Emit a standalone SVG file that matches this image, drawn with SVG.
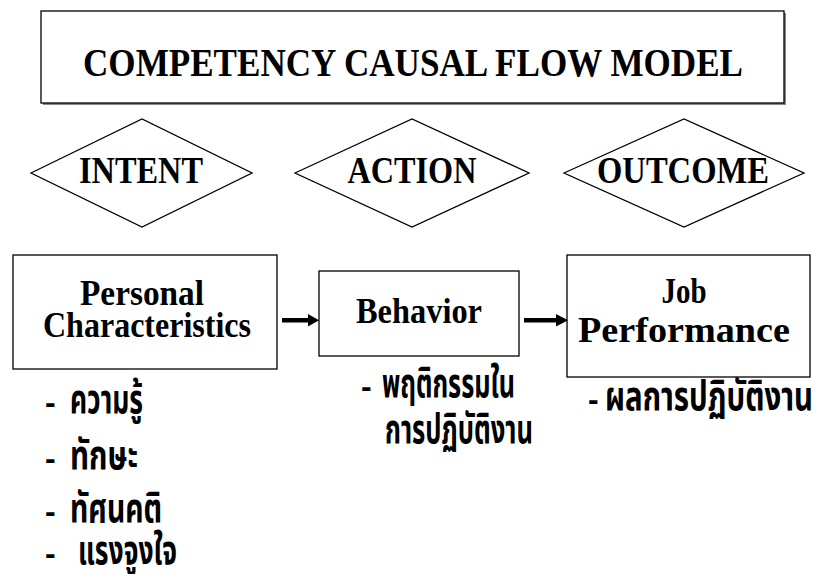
<svg xmlns="http://www.w3.org/2000/svg" width="818" height="574" viewBox="0 0 818 574">
<style>
.box{fill:#fff;stroke:#000;stroke-width:1.3}
.en{font-family:"Liberation Serif","Times New Roman",serif;font-weight:bold;fill:#000;text-anchor:middle}
.th{font-family:"Noto Sans Thai","Noto Sans Thai Looped","Noto Sans","DejaVu Sans",sans-serif;font-weight:bold;font-size:40px;fill:#000}
.th tspan.d{font-family:"Liberation Sans",Arial,sans-serif;font-size:32px}
.arr{fill:#000;stroke:none}
</style>
<rect width="818" height="574" fill="#fff"/>
<g id="title">
<rect x="43" y="13" width="743" height="92" fill="#888"/>
<rect class="box" x="41" y="11" width="743" height="92"/>
<text class="en" x="413" y="76" font-size="40" textLength="660" lengthAdjust="spacingAndGlyphs">COMPETENCY CAUSAL FLOW MODEL</text>
</g>
<g id="intent">
<polygon class="box" points="31,173 142,119 252,173 142,227"/>
<text class="en" x="141" y="183" font-size="37" textLength="124" lengthAdjust="spacingAndGlyphs">INTENT</text>
</g>
<g id="action">
<polygon class="box" points="295,173 412,119 529,173 412,227"/>
<text class="en" x="412" y="183" font-size="37" textLength="129" lengthAdjust="spacingAndGlyphs">ACTION</text>
</g>
<g id="outcome">
<polygon class="box" points="564,173 684,119 804,173 684,227"/>
<text class="en" x="683" y="183" font-size="37" textLength="172" lengthAdjust="spacingAndGlyphs">OUTCOME</text>
</g>
<g id="personal">
<rect class="box" x="13" y="255" width="264" height="114"/>
<text class="en" x="142" y="305" font-size="35" textLength="124" lengthAdjust="spacingAndGlyphs">Personal</text>
<text class="en" x="147" y="337" font-size="35" textLength="208" lengthAdjust="spacingAndGlyphs">Characteristics</text>
</g>
<g id="behavior">
<rect class="box" x="319" y="271" width="200" height="85"/>
<text class="en" x="419" y="323" font-size="35" textLength="126" lengthAdjust="spacingAndGlyphs">Behavior</text>
</g>
<g id="job">
<rect class="box" x="567" y="255" width="243" height="122"/>
<text class="en" x="684" y="303" font-size="35" textLength="45" lengthAdjust="spacingAndGlyphs">Job</text>
<text class="en" x="684" y="342" font-size="35" textLength="212" lengthAdjust="spacingAndGlyphs">Performance</text>
</g>
<g id="connectors">
<rect class="arr" x="282" y="318" width="28" height="4.5"/>
<polygon class="arr" points="308,314 319,320.2 308,326.5"/>
<rect class="arr" x="524" y="318" width="34" height="4.5"/>
<polygon class="arr" points="556,314 568,320.2 556,326.5"/>
</g>
<g id="personal-list">
<text class="th" y="413"><tspan class="d" x="45">-</tspan><tspan x="70" textLength="73" lengthAdjust="spacingAndGlyphs">ความรู้</tspan></text>
<text class="th" y="469"><tspan class="d" x="45">-</tspan><tspan x="70" textLength="68" lengthAdjust="spacingAndGlyphs">ทักษะ</tspan></text>
<text class="th" y="522"><tspan class="d" x="45">-</tspan><tspan x="70" textLength="92" lengthAdjust="spacingAndGlyphs">ทัศนคติ</tspan></text>
<text class="th" y="564"><tspan class="d" x="45">-</tspan><tspan x="78" textLength="99" lengthAdjust="spacingAndGlyphs">แรงจูงใจ</tspan></text>
</g>
<g id="behavior-list">
<text class="th" y="397"><tspan class="d" x="361">-</tspan><tspan x="382" textLength="133" lengthAdjust="spacingAndGlyphs">พฤติกรรมใน</tspan></text>
<text class="th" x="385" y="443" textLength="148" lengthAdjust="spacingAndGlyphs">การปฏิบัติงาน</text>
</g>
<g id="job-list">
<text class="th" y="410"><tspan class="d" x="588">-</tspan><tspan x="605" textLength="208" lengthAdjust="spacingAndGlyphs">ผลการปฏิบัติงาน</tspan></text>
</g>
</svg>
